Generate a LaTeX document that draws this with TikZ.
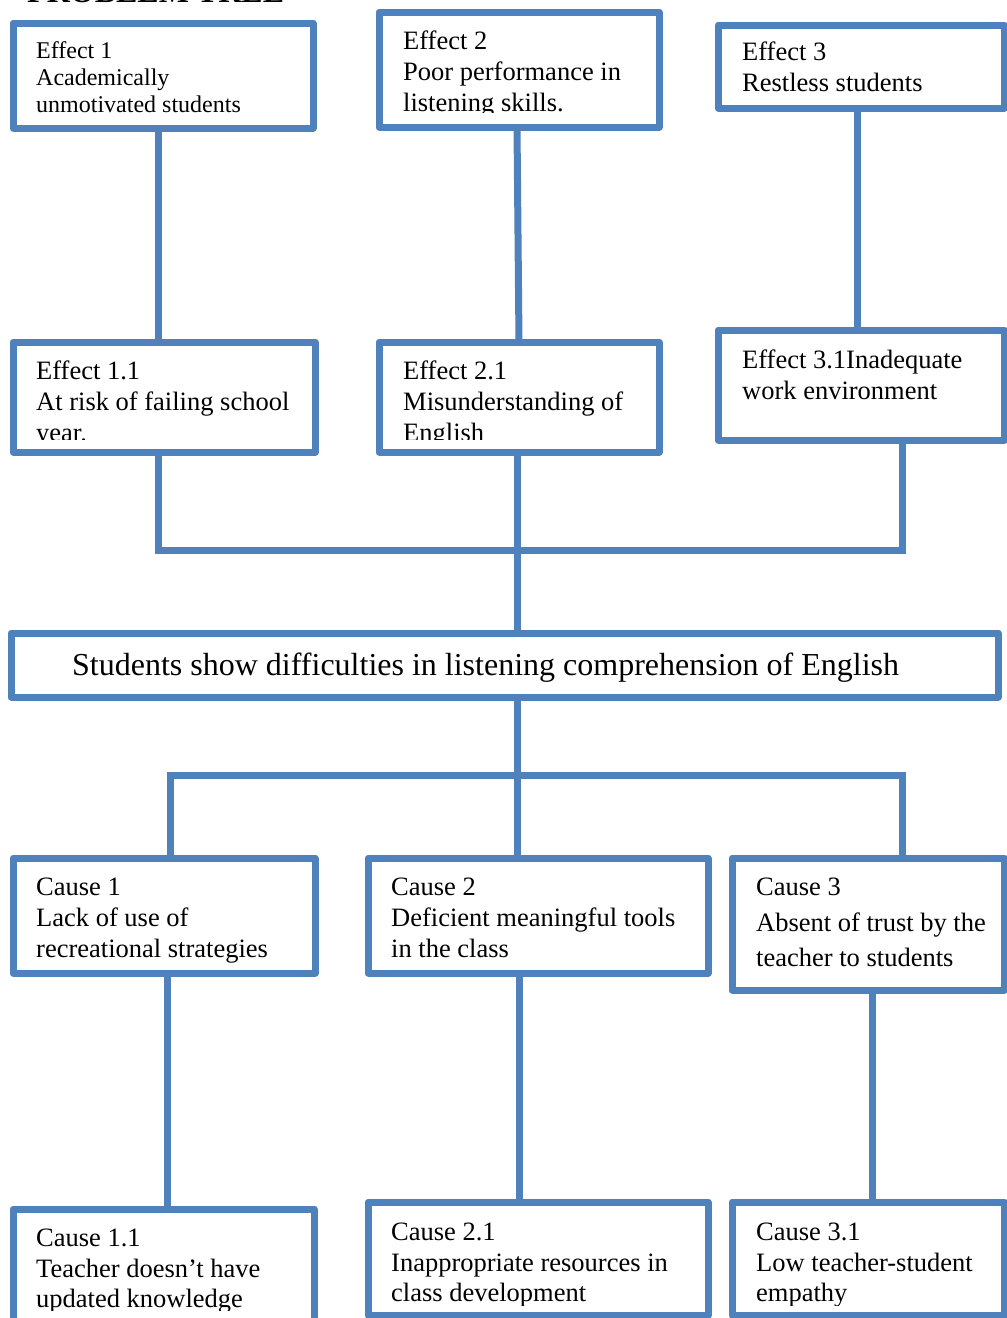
\documentclass[tikz,border=0pt]{standalone}
\usepackage{fontspec}
\setmainfont{Liberation Serif}
\definecolor{tblue}{RGB}{79,129,189}
\begin{document}
\begin{tikzpicture}[x=1pt,y=-1pt,
  tbox/.style={draw=tblue,line width=7pt,line join=round,rectangle,inner sep=0pt,outer sep=0pt,anchor=north west,fill=none},
  conn/.style={draw=tblue,line width=7pt},
  ln/.style={anchor=base west,inner sep=0pt,font=\fontsize{26.5}{31}\selectfont},
  lns/.style={anchor=base west,inner sep=0pt,font=\fontsize{24}{28}\selectfont},
  lnb/.style={anchor=base west,inner sep=0pt,font=\fontsize{32}{36}\selectfont}]
\useasboundingbox (0,0) rectangle (1007,1318);
\clip (0,0) rectangle (1007,1318);
\fill[white] (0,0) rectangle (1007,1318);
% title (cut off)
\node[anchor=base west,inner sep=0pt,font=\bfseries\fontsize{32}{36}\selectfont] (title) at (27,2) {PROBLEM TREE};
% column coordinates
\coordinate (x158) at (158,0);
\coordinate (x517) at (517,0);
\coordinate (x519) at (519,0);
\coordinate (x857) at (857,0);
\coordinate (x902) at (902,0);
\coordinate (x170) at (170,0);
\coordinate (x167) at (167,0);
\coordinate (x872) at (872,0);
\coordinate (busA) at (0,550);
\coordinate (busB) at (0,775);
% boxes
\node[tbox,minimum width=300,minimum height=105] (e1) at (13,23) {};
\node[tbox,minimum width=280,minimum height=115] (e2) at (379,12) {};
\node[tbox,minimum width=286,minimum height=83] (e3) at (718,25) {};
\node[tbox,minimum width=302,minimum height=110] (e11) at (13,342) {};
\node[tbox,minimum width=280,minimum height=110] (e21) at (379,342) {};
\node[tbox,minimum width=286,minimum height=110] (e31) at (718,330) {};
\node[tbox,minimum width=987,minimum height=64] (pb) at (11,633) {};
\node[tbox,minimum width=302,minimum height=115] (c1) at (13,858) {};
\node[tbox,minimum width=340,minimum height=115] (c2) at (368,858) {};
\node[tbox,minimum width=272,minimum height=132] (c3) at (732,858) {};
\node[tbox,minimum width=301,minimum height=121] (c11) at (13,1209) {};
\node[tbox,minimum width=340,minimum height=113] (c21) at (368,1202) {};
\node[tbox,minimum width=272,minimum height=113] (c31) at (732,1202) {};
% connectors
\draw[conn] (e1.south -| x158) -- (e11.north -| x158);
\draw[conn] (e2.south -| x517) -- (e21.north -| x519);
\draw[conn] (e3.south -| x857) -- (e31.north -| x857);
\draw[conn,line join=miter] (e11.south -| x158) -- (x158 |- busA) -- (x902 |- busA) -- (e31.south -| x902);
\draw[conn] (e21.south -| x517) -- (pb.north -| x517);
\draw[conn] (pb.south -| x517) -- (c2.north -| x517);
\draw[conn,line join=miter] (c1.north -| x170) -- (x170 |- busB) -- (x902 |- busB) -- (c3.north -| x902);
\draw[conn] (c1.south -| x167) -- (c11.north -| x167);
\draw[conn] (c2.south -| x519) -- (c21.north -| x519);
\draw[conn] (c3.south -| x872) -- (c31.north -| x872);
% texts
\node[lns] (t1a) at (36,58) {Effect 1};
\node[lns] (t1b) at (36,85) {Academically};
\node[lns] (t1c) at (36,112) {unmotivated students};
\node[ln] (t2a) at (403,49) {Effect 2};
\node[ln] (t2b) at (403,80) {Poor performance in};
\begin{scope}\clip (380,90) rectangle (655,112);
\node[ln] (t2c) at (403,111) {listening skills.};
\end{scope}
\node[ln] (t3a) at (742,60) {Effect 3};
\node[ln] (t3b) at (742,91) {Restless students};
\node[ln] (t11a) at (36,379) {Effect 1.1};
\node[ln] (t11b) at (36,410) {At risk of failing school};
\begin{scope}\clip (20,415) rectangle (310,439);
\node[ln] (t11c) at (36,441) {year.};
\end{scope}
\node[ln] (t21a) at (403,379) {Effect 2.1};
\node[ln] (t21b) at (403,410) {Misunderstanding of};
\begin{scope}\clip (385,415) rectangle (655,439);
\node[ln] (t21c) at (403,441) {English};
\end{scope}
\node[ln] (t31a) at (742,368) {Effect 3.1Inadequate};
\node[ln] (t31b) at (742,399) {work environment};
\node[lnb] (tp) at (72,675) {Students show difficulties in listening comprehension of English};
\node[ln] (tc1a) at (36,895) {Cause 1};
\node[ln] (tc1b) at (36,926) {Lack of use of};
\begin{scope}\clip (20,930) rectangle (310,962);
\node[ln] (tc1c) at (36,957) {recreational strategies};
\end{scope}
\node[ln] (tc2a) at (391,895) {Cause 2};
\node[ln] (tc2b) at (391,926) {Deficient meaningful tools};
\node[ln] (tc2c) at (391,957) {in the class};
\node[ln] (tc3a) at (756,895) {Cause 3};
\node[ln] (tc3b) at (756,931) {Absent of trust by the};
\node[ln] (tc3c) at (756,966) {teacher to students};
\node[ln] (tc11a) at (36,1246) {Cause 1.1};
\node[ln] (tc11b) at (36,1277) {Teacher doesn’t have};
\begin{scope}\clip (20,1280) rectangle (310,1310);
\node[ln] (tc11c) at (36,1307) {updated knowledge};
\end{scope}
\node[ln] (tc21a) at (391,1240) {Cause 2.1};
\node[ln] (tc21b) at (391,1271) {Inappropriate resources in};
\begin{scope}\clip (375,1275) rectangle (700,1305);
\node[ln] (tc21c) at (391,1301) {class development};
\end{scope}
\node[ln] (tc31a) at (756,1240) {Cause 3.1};
\node[ln] (tc31b) at (756,1271) {Low teacher-student};
\begin{scope}\clip (740,1275) rectangle (1000,1305);
\node[ln] (tc31c) at (756,1301) {empathy};
\end{scope}
\end{tikzpicture}
\end{document}
